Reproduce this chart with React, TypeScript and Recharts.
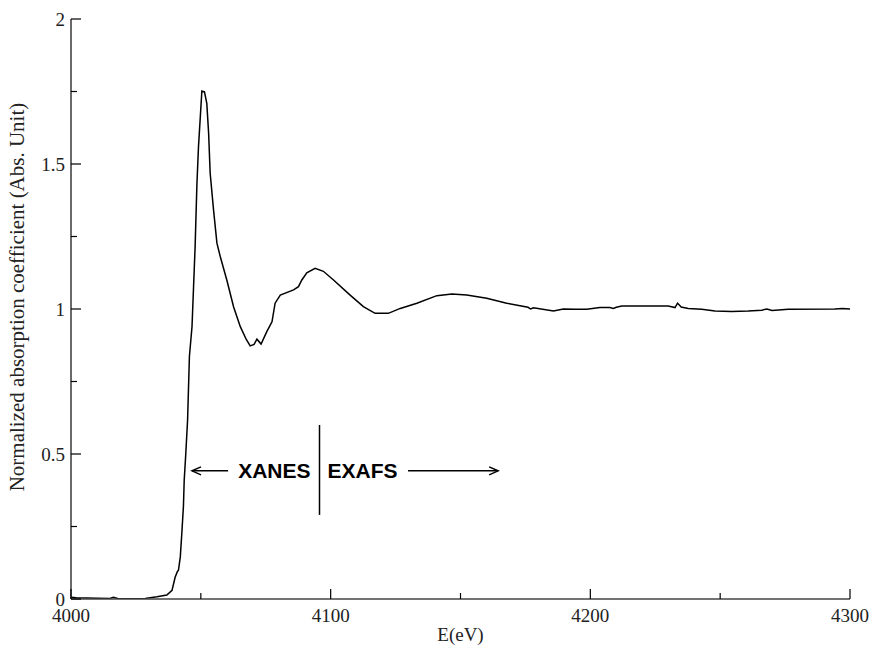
import React from "react";
import { LineChart, Line, XAxis, YAxis, ReferenceLine, ReferenceDot } from "recharts";

// photon energy (eV) and normalized absorption
const energy = [
  4000, 4002, 4010, 4015, 4016.3, 4018, 4025, 4028.6, 4033.1, 4036.9,
  4038.9, 4040.1, 4041.0, 4041.4, 4042.1, 4042.7, 4043.3, 4043.6, 4044.2, 4044.9,
  4045.6, 4046.6, 4047.2, 4047.8, 4048.5, 4049.1, 4049.8, 4050.4, 4051.4, 4052.3,
  4053.0, 4053.6, 4054.9, 4056.2, 4057.5, 4060.0, 4062.6, 4065.2, 4067.5, 4069.0,
  4070.5, 4071.6, 4073.2, 4075.4, 4077.4, 4078.6, 4080.6, 4085.7, 4087.6, 4088.9,
  4090.8, 4094.0, 4097.2, 4101.1, 4107.5, 4112.6, 4117.1, 4122.2, 4126.8, 4133.2,
  4140.9, 4146.7, 4152.4, 4160.1, 4167.8, 4176, 4177, 4178.1, 4185.8, 4189.6,
  4194.1, 4198.6, 4203.7, 4207.5, 4208.9, 4210, 4212.1, 4230.0, 4232.6, 4233.6,
  4235, 4237.7, 4242.9, 4248.0, 4254.4, 4260.8, 4266.0, 4268, 4270, 4276.2,
  4294.2, 4297, 4300,
];
const absorption = [
  0.006, 0.004, 0.003, 0.002, 0.006, 0.002, 0.001, 0.002, 0.008, 0.014,
  0.03, 0.075, 0.095, 0.1, 0.146, 0.23, 0.32, 0.41, 0.5, 0.617,
  0.836, 0.939, 1.077, 1.215, 1.433, 1.56, 1.663, 1.752, 1.749, 1.709,
  1.606, 1.468, 1.341, 1.227, 1.18, 1.1, 1.008, 0.939, 0.895, 0.873,
  0.878, 0.896, 0.879, 0.922, 0.956, 1.02, 1.048, 1.066, 1.077, 1.1,
  1.125, 1.14, 1.13, 1.1, 1.048, 1.008, 0.985, 0.985, 1.002, 1.02,
  1.046, 1.052, 1.048, 1.037, 1.02, 1.006, 1.0, 1.004, 0.993, 1.0,
  0.999, 0.999, 1.005, 1.005, 1.002, 1.006, 1.01, 1.01, 1.005, 1.02,
  1.007, 1.002, 0.999, 0.993, 0.991, 0.993, 0.996, 1.0, 0.995, 0.999,
  1.0, 1.002, 1.0,
];

const xTicks = [4000, 4050, 4100, 4150, 4200, 4250, 4300];
const xLabels = [4000, 4100, 4200, 4300];
const yTicks = [0, 0.25, 0.5, 0.75, 1, 1.25, 1.5, 1.75, 2];
const yLabels = [0, 0.5, 1, 1.5, 2];

// annotation: edge split between XANES and EXAFS regions
const splitE = 4095.7;
const splitRange = [0.29, 0.6];
const arrowY = 0.442;
const xanesArrow = [4060.5, 4046.6];
const exafsArrow = [4129.8, 4164.5];
const xanesLabelE = 4078.3;
const exafsLabelE = 4112.3;

const data = energy.map((e, i) => ({ e, mu: absorption[i] }));

const serif = "'Liberation Serif', 'Times New Roman', serif";
const sans = "'Liberation Sans', Arial, sans-serif";
const frame = "#444";

const BottomTick = (props: any) => {
  const { x, y, payload } = props;
  const major = xLabels.includes(payload.value);
  return (
    <g>
      <line x1={x} y1={y} x2={x} y2={y - (major ? 10 : 6)} stroke="#000" strokeWidth={1.2} />
      {major && (
        <text x={x} y={y + 23} textAnchor="middle" fontFamily={serif} fontSize={19} fill="#222">
          {payload.value}
        </text>
      )}
    </g>
  );
};

const TopTick = (props: any) => {
  const { x, y, payload } = props;
  const major = xLabels.includes(payload.value);
  return <line x1={x} y1={y} x2={x} y2={y + (major ? 10 : 6)} stroke="#000" strokeWidth={1.2} />;
};

const LeftTick = (props: any) => {
  const { x, y, payload } = props;
  const major = yLabels.includes(payload.value);
  return (
    <g>
      <line x1={x} y1={y} x2={x + (major ? 10 : 6)} y2={y} stroke="#000" strokeWidth={1.2} />
      {major && (
        <text x={x - 6} y={y} dy="0.36em" textAnchor="end" fontFamily={serif} fontSize={19} fill="#222">
          {payload.value}
        </text>
      )}
    </g>
  );
};

const RightTick = (props: any) => {
  const { x, y, payload } = props;
  const major = yLabels.includes(payload.value);
  return <line x1={x} y1={y} x2={x - (major ? 10 : 6)} y2={y} stroke="#000" strokeWidth={1.2} />;
};

const YTitle = (props: any) => {
  const vb = props.viewBox || {};
  const cx = vb.x + 17;
  const cy = vb.y + vb.height / 2 - 12;
  return (
    <text
      x={cx}
      y={cy}
      transform={`rotate(-90 ${cx} ${cy})`}
      textAnchor="middle"
      dominantBaseline="central"
      fontFamily={serif}
      fontSize={21}
      fill="#222"
    >
      Normalized absorption coefficient (Abs. Unit)
    </text>
  );
};

const Arrow = (props: any) => {
  const { x1, y1, x2, y2 } = props;
  const dir = Math.sign(x2 - x1);
  return (
    <g>
      <line x1={x1} y1={y1} x2={x2} y2={y2} stroke="#000" strokeWidth={1.5} />
      <polyline
        points={`${x2 - dir * 9},${y2 - 4} ${x2},${y2} ${x2 - dir * 9},${y2 + 4}`}
        fill="none"
        stroke="#000"
        strokeWidth={1.5}
      />
    </g>
  );
};

const Word = (text: string) => (props: any) => (
  <text
    x={props.cx}
    y={props.cy}
    dy="0.36em"
    textAnchor="middle"
    fontFamily={sans}
    fontWeight="bold"
    fontSize={21}
    fill="#000"
  >
    {text}
  </text>
);

export default function App() {
  return (
    <div style={{ width: 874, height: 646, background: "#fff" }}>
      <style>{`body{margin:0}`}</style>
      <LineChart width={874} height={646} data={data} margin={{ top: 19, right: 24, left: 0, bottom: 0 }}>
        <XAxis
          dataKey="e"
          type="number"
          domain={[4000, 4300]}
          ticks={xTicks}
          interval={0}
          tickSize={0}
          tickMargin={0}
          height={47}
          tick={<BottomTick />}
          axisLine={{ stroke: frame, strokeWidth: 1.6 }}
          allowDataOverflow
          label={{
            value: "E(eV)",
            position: "insideBottom",
            offset: 5,
            style: { fontFamily: serif, fontSize: 19, fill: "#222" },
          }}
        />
        <XAxis
          xAxisId="top"
          orientation="top"
          type="number"
          domain={[4000, 4300]}
          ticks={xTicks}
          interval={0}
          tickSize={0}
          tickMargin={0}
          height={0}
          tick={<TopTick />}
          axisLine={{ stroke: frame, strokeWidth: 1.6 }}
          allowDataOverflow
        />
        <YAxis
          type="number"
          domain={[0, 2]}
          ticks={yTicks}
          interval={0}
          tickSize={0}
          tickMargin={0}
          width={71}
          tick={<LeftTick />}
          axisLine={{ stroke: frame, strokeWidth: 1.6 }}
          allowDataOverflow
          label={{ content: <YTitle /> }}
        />
        <YAxis
          yAxisId="right"
          orientation="right"
          type="number"
          domain={[0, 2]}
          ticks={yTicks}
          interval={0}
          tickSize={0}
          tickMargin={0}
          width={0}
          tick={<RightTick />}
          axisLine={{ stroke: frame, strokeWidth: 1.6 }}
          allowDataOverflow
        />
        <Line
          type="linear"
          dataKey="mu"
          stroke="#000"
          strokeWidth={1.5}
          dot={false}
          isAnimationActive={false}
        />
        <ReferenceLine
          segment={[
            { x: splitE, y: splitRange[0] },
            { x: splitE, y: splitRange[1] },
          ]}
          stroke="#000"
          strokeWidth={1.5}
        />
        <ReferenceLine
          segment={[
            { x: xanesArrow[0], y: arrowY },
            { x: xanesArrow[1], y: arrowY },
          ]}
          shape={<Arrow />}
        />
        <ReferenceLine
          segment={[
            { x: exafsArrow[0], y: arrowY },
            { x: exafsArrow[1], y: arrowY },
          ]}
          shape={<Arrow />}
        />
        <ReferenceDot x={xanesLabelE} y={arrowY} r={0} shape={Word("XANES")} />
        <ReferenceDot x={exafsLabelE} y={arrowY} r={0} shape={Word("EXAFS")} />
      </LineChart>
    </div>
  );
}
